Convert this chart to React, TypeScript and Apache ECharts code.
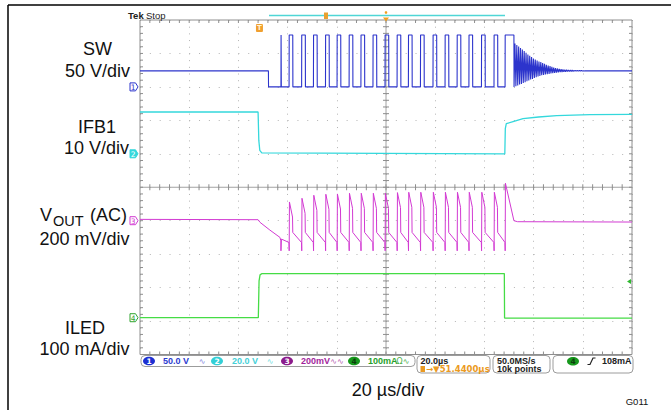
import React, { useEffect, useRef } from "react";
import * as echarts from "echarts";

// Horizontal axis: time in µs (20 µs/div, 10 divisions). Vertical axis: screen divisions (0 = bottom, 10 = top).
const timeLimitsUs = [-100, 100];
const timeTickUs = 20;
const divLimits = [0, 10];
const minorPerDiv = 5;

// Channel 1: SW (50 V/div), in screen divisions
const swIdleDiv = 8.48;
const swLowDiv = 8.0;
const swHighDiv = 9.55;
const swStopUs = -47.8;
const swSpikeUs = -42.7;
const swRiseUs = [-39.4, -34.3, -29.5, -24.6, -19.9, -15.0, -10.2, -5.3, -0.4, 4.5, 9.1, 14.0, 19.1, 24.0, 28.9, 33.7, 38.8, 43.9, 48.4];
const swFallUs = [-37.9, -32.8, -28.0, -23.1, -18.4, -13.5, -8.7, -3.8, 1.1, 6.0, 10.6, 15.5, 20.6, 25.5, 30.4, 35.2, 40.3, 45.4, 52.0];
const swRingPeriodUs = 0.75;
const swRingTopDiv = [9.3, 9.25, 9.21, 9.16, 9.12, 9.07, 9.02, 8.97, 8.93, 8.89, 8.85, 8.82, 8.79, 8.76, 8.74, 8.71, 8.69, 8.66, 8.64, 8.62, 8.6, 8.58, 8.56, 8.55, 8.54, 8.53, 8.52, 8.515, 8.51, 8.505, 8.5, 8.5, 8.495, 8.495, 8.49, 8.49, 8.49, 8.485, 8.485, 8.485, 8.48, 8.48];
const swRingBottomDiv = [8.02, 8.04, 8.07, 8.09, 8.12, 8.14, 8.17, 8.19, 8.22, 8.24, 8.27, 8.29, 8.31, 8.33, 8.35, 8.36, 8.37, 8.38, 8.39, 8.4, 8.41, 8.42, 8.43, 8.435, 8.44, 8.445, 8.45, 8.455, 8.46, 8.46, 8.465, 8.465, 8.47, 8.47, 8.47, 8.475, 8.475, 8.475, 8.48, 8.48, 8.48, 8.48];

// Channel 2: IFB1 (10 V/div)
const ifbTimesUs = [-100, -52.0, -51.7, -51.3, -50.5, 48.3, 48.5, 48.9, 52.0, 55.7, 62.0, 69.4, 82.9, 100];
const ifbDiv = [7.25, 7.25, 6.4, 6.1, 6.03, 6.0, 6.75, 6.9, 6.97, 7.05, 7.1, 7.14, 7.17, 7.18];

// Channel 3: VOUT (AC, 200 mV/div)
const voutPreTimesUs = [-100, -52.0, -51.2, -47.2, -43.1, -42.75, -42.7, -42.5, -39.45];
const voutPreDiv = [4.04, 4.03, 3.95, 3.72, 3.5, 3.4, 3.1, 3.45, 3.35];
const voutPeakDiv = [4.56, 4.67, 4.76, 4.79, 4.8, 4.82, 4.82, 4.82, 4.82, 4.84, 4.85, 4.85, 4.85, 4.85, 4.85, 4.85, 4.85, 4.85, 5.12];
const voutTroughDiv = 3.35;
const voutDipDiv = 3.1;
const voutKneeDiv = 3.65;
const voutSlopeDropDiv = 0.45;
const voutPostTimesUs = [52.0, 53.5, 100];
const voutPostDiv = [4.0, 3.97, 3.96];

// Channel 4: ILED (100 mA/div)
const iledTimesUs = [-100, -51.9, -51.6, -51.2, -50.4, 48.1, 48.2, 100];
const iledDiv = [1.1, 1.1, 2.2, 2.38, 2.42, 2.42, 1.09, 1.09];

// Ground / reference markers (screen divisions) and trigger level
const chMarkerDiv = [8.0, 6.0, 4.0, 1.1];
const triggerLevelDiv = 2.18;
const triggerTimeUs = -51.44;

const colors = {
  sw: "#2c34cc",
  ifb: "#34d8dc",
  vout: "#d23ad2",
  iled: "#45dc45",
};

function buildSw() {
  const pts: number[][] = [
    [timeLimitsUs[0], swIdleDiv],
    [swStopUs, swIdleDiv],
    [swStopUs + 0.05, swLowDiv],
    [swSpikeUs, swLowDiv],
    [swSpikeUs + 0.05, swHighDiv],
    [swSpikeUs + 0.15, swLowDiv],
  ];
  swRiseUs.forEach((r, i) => {
    pts.push([r, swLowDiv], [r + 0.05, swHighDiv], [swFallUs[i], swHighDiv], [swFallUs[i] + 0.05, swLowDiv]);
  });
  const t0 = swFallUs[swFallUs.length - 1] + 0.05;
  swRingTopDiv.forEach((top, k) => {
    pts.push([t0 + k * swRingPeriodUs + swRingPeriodUs / 2, top]);
    pts.push([t0 + (k + 1) * swRingPeriodUs, swRingBottomDiv[k]]);
  });
  pts.push([t0 + swRingTopDiv.length * swRingPeriodUs + 0.6, swIdleDiv], [timeLimitsUs[1], swIdleDiv]);
  return pts;
}

function buildVout() {
  const pts: number[][] = voutPreTimesUs.map((t, i) => [t, voutPreDiv[i]]);
  const n = swRiseUs.length;
  swRiseUs.forEach((r, i) => {
    pts.push([r, voutTroughDiv], [r + 0.05, voutDipDiv], [r + 0.15, voutPeakDiv[i]]);
    if (i < n - 1) {
      const f = swFallUs[i];
      pts.push([f - 0.1, voutPeakDiv[i] - voutSlopeDropDiv], [f, voutKneeDiv], [swRiseUs[i + 1] - 0.05, voutTroughDiv]);
    }
  });
  voutPostTimesUs.forEach((t, i) => pts.push([t, voutPostDiv[i]]));
  return pts;
}

const zip = (a: number[], b: number[]) => a.map((t, i) => [t, b[i]]);

function renderGraticule(_params: any, api: any) {
  const [x0, y0] = api.coord([timeLimitsUs[0], divLimits[0]]);
  const [x1, y1] = api.coord([timeLimitsUs[1], divLimits[1]]);
  const [cx, cy] = api.coord([0, (divLimits[0] + divLimits[1]) / 2]);
  const children: any[] = [];
  const L = (a: number, b: number, c: number, d: number, col = "#8e8e8e") =>
    children.push({ type: "line", shape: { x1: a, y1: b, x2: c, y2: d }, style: { stroke: col, lineWidth: 1 } });
  L(x0, y1, x1, y1);
  L(x0, y0, x1, y0);
  L(x0, y0, x0, y1);
  L(x1, y0, x1, y1);
  L(cx, y0, cx, y1, "#a2a2a2");
  L(x0, cy, x1, cy, "#a2a2a2");
  const nx = ((timeLimitsUs[1] - timeLimitsUs[0]) / timeTickUs) * minorPerDiv;
  const ny = (divLimits[1] - divLimits[0]) * minorPerDiv;
  for (let i = 1; i < nx; i++) {
    const x = x0 + ((x1 - x0) * i) / nx;
    L(x, cy - 3, x, cy + 3);
    L(x, y1, x, y1 + 3);
    L(x, y0 - 3, x, y0);
  }
  for (let j = 1; j < ny; j++) {
    const y = y1 + ((y0 - y1) * j) / ny;
    L(cx - 3, y, cx + 3, y);
    L(x0, y, x0 + 3, y);
    L(x1 - 3, y, x1, y);
  }
  return { type: "group", children };
}

const lineSeries = (name: string, data: number[][], color: string, width = 1.2) => ({
  name,
  type: "line",
  data,
  showSymbol: false,
  symbol: "none",
  silent: true,
  z: 5,
  lineStyle: { color, width },
});

const FONT = "Liberation Sans";

function txt(text: string, x: number, y: number, size: number, fill: string, align = "center", weight = "normal", family = FONT, z = 102) {
  return {
    type: "text",
    x,
    y,
    z,
    silent: true,
    style: { text, fill, fontSize: size, fontFamily: family, fontWeight: weight, textAlign: align, textVerticalAlign: "middle" },
  };
}

function chTag(tipX: number, y: number, label: string, color: string, filled: boolean) {
  return [
    {
      type: "polygon",
      z: 101,
      shape: { points: [[tipX - 8, y - 4], [tipX - 2.5, y - 4], [tipX, y], [tipX - 2.5, y + 4], [tipX - 8, y + 4]] },
      style: { fill: filled ? color : "#ffffff", stroke: color, lineWidth: 1 },
    },
    txt(label, tipX - 4.8, y + 0.5, 7.5, filled ? "#ffffff" : color, "center", "normal", "DejaVu Sans"),
  ];
}

function pill(cx: number, cy: number, label: string, fill: string, textFill = "#ffffff") {
  return [
    { type: "ellipse", z: 101, shape: { cx, cy, rx: 6, ry: 4.3 }, style: { fill } },
    txt(label, cx, cy + 0.5, 7.5, textFill, "center", "bold", "DejaVu Sans"),
  ];
}

function box(x: number, y: number, w: number, h: number) {
  return { type: "rect", z: 99, shape: { x, y, width: w, height: h, r: 4 }, style: { fill: "#ffffff", stroke: "#9c9c9c", lineWidth: 1 } };
}

function buildGraphics(px: (t: number, v: number) => number[]) {
  const tipX = px(timeLimitsUs[0], 0)[0] - 2;
  const rightX = px(timeLimitsUs[1], 0)[0];
  const topY = px(0, divLimits[1])[1];
  const trigX = px(triggerTimeUs, 0)[0];
  const centerX = px(0, 0)[0];
  const tl = px(0, triggerLevelDiv)[1];
  const ys = chMarkerDiv.map((d) => px(0, d)[1]);
  const els: any[] = [
    { type: "line", z: 100, shape: { x1: 8, y1: 5, x2: 671, y2: 5 }, style: { stroke: "#000", lineWidth: 1.5 } },
    { type: "line", z: 100, shape: { x1: 8, y1: 5, x2: 8, y2: 410 }, style: { stroke: "#000", lineWidth: 1.5 } },
    txt("Tek", 128, 15.5, 9.5, "#222", "left", "bold"),
    txt("Stop", 146, 15.5, 9.5, "#222", "left"),
    { type: "line", z: 100, shape: { x1: 269, y1: 15.5, x2: 505, y2: 15.5 }, style: { stroke: "#4fd6d6", lineWidth: 1.3 } },
    { type: "rect", z: 101, shape: { x: 324, y: 12.5, width: 4, height: 6.5 }, style: { fill: "#e8a030" } },
    { type: "circle", z: 101, shape: { cx: centerX, cy: 12.5, r: 1.3 }, style: { fill: "#f0a020" } },
    { type: "polygon", z: 101, shape: { points: [[centerX - 3, topY - 2.5], [centerX + 3, topY - 2.5], [centerX, topY + 1.5]] }, style: { fill: "#f0a020" } },
    { type: "rect", z: 101, shape: { x: trigX - 3.5, y: 24, width: 7, height: 8, r: 1 }, style: { fill: "#f0a030" } },
    txt("T", trigX, 28.3, 7, "#fff5d8", "center", "bold", "DejaVu Sans"),
    ...chTag(tipX, ys[0], "1", colors.sw, false),
    ...chTag(tipX, ys[1], "2", colors.ifb, true),
    ...chTag(tipX, ys[2], "3", colors.vout, false),
    ...chTag(tipX, ys[3], "4", "#2fa42f", false),
    { type: "polygon", z: 101, shape: { points: [[rightX - 5, tl], [rightX - 1, tl - 2.5], [rightX - 1, tl + 2.5]] }, style: { fill: "#2fb82f" } },
    // channel labels
    txt("SW", 97.5, 49, 18, "#111"),
    txt("50 V/div", 97.5, 70.5, 18, "#111"),
    txt("IFB1", 97, 127, 18, "#111"),
    txt("10 V/div", 96.5, 147.5, 18, "#111"),
    txt("V", 40, 215, 18, "#111", "left"),
    txt("OUT", 53, 221, 14.5, "#111", "left"),
    txt("(AC)", 90, 215, 18, "#111", "left"),
    txt("200 mV/div", 84.5, 239, 18, "#111"),
    txt("ILED", 85, 328, 18, "#111"),
    txt("100 mA/div", 84.5, 349, 18, "#111"),
    txt("20 µs/div", 388, 389.5, 18, "#111"),
    txt("G011", 637, 401.5, 9.5, "#111"),
    // status bar
    box(141, 355.5, 274, 11),
    ...pill(149, 361, "1", "#1c2fd2"),
    txt("50.0 V", 163, 361.3, 9, "#2b3bd0", "left", "bold"),
    txt("∿", 202, 361, 8, "#7f86e0", "center", "normal", "DejaVu Sans"),
    ...pill(217, 361, "2", "#33cfd6"),
    txt("20.0 V", 232, 361.3, 9, "#45d0d8", "left", "bold"),
    txt("∿", 270, 361, 8, "#6fdde0", "center", "normal", "DejaVu Sans"),
    ...pill(287, 361, "3", "#8b1a8b"),
    txt("200mV", 301, 361.3, 9, "#a21f9c", "left", "bold"),
    txt("∿∿", 337, 361, 8, "#b45ab0", "center", "normal", "DejaVu Sans"),
    ...pill(354, 361, "4", "#17991d", "#0d3d0d"),
    txt("100mA", 368, 361.3, 9, "#27a02b", "left", "bold"),
    txt("Ω∿", 403, 361, 8, "#4aaf4a", "center", "normal", "DejaVu Sans"),
    box(417, 355.5, 73, 17.5),
    txt("20.0µs", 420.5, 360.8, 9, "#222", "left", "bold"),
    { type: "rect", z: 101, shape: { x: 420.5, y: 366, width: 4.5, height: 6 }, style: { fill: "#eb9a22" } },
    txt("→▼51.4400µs", 426, 369.3, 8.5, "#eb9a22", "left", "bold", "DejaVu Sans"),
    box(493, 355.5, 57, 17.5),
    txt("50.0MS/s", 497, 360.8, 9, "#222", "left", "bold"),
    txt("10k points", 497, 369.3, 9, "#222", "left", "bold"),
    box(553, 355.5, 80, 17.5),
    ...pill(573, 361.3, "4", "#17991d", "#0d3d0d"),
    { type: "polyline", z: 101, shape: { points: [[587.5, 364.5], [590, 364.5], [593, 358], [595.5, 358]] }, style: { stroke: "#222", lineWidth: 1.2, fill: "none" } },
    txt("108mA", 602, 361.3, 9, "#222", "left", "bold"),
  ];
  return els;
}

export default function App() {
  const ref = useRef<HTMLDivElement>(null);
  useEffect(() => {
    const chart = echarts.init(ref.current!, null, { renderer: "svg" });
    chart.setOption({
      animation: false,
      backgroundColor: "#ffffff",
      grid: { left: 140, top: 20, width: 492, height: 334.5, show: false },
      xAxis: {
        type: "value",
        min: timeLimitsUs[0],
        max: timeLimitsUs[1],
        interval: timeTickUs,
        axisLine: { show: false },
        axisTick: { show: false },
        axisLabel: { show: false },
        splitLine: { show: true, lineStyle: { color: "#b4b4b4", width: 1, type: [1, 5.69] } },
      },
      yAxis: {
        type: "value",
        min: divLimits[0],
        max: divLimits[1],
        interval: 1,
        axisLine: { show: false },
        axisTick: { show: false },
        axisLabel: { show: false },
        splitLine: { show: true, lineStyle: { color: "#b4b4b4", width: 1, type: [1, 8.84] } },
      },
      series: [
        { type: "custom", renderItem: renderGraticule, data: [[0, 0]], silent: true, z: 1 },
        lineSeries("ILED", zip(iledTimesUs, iledDiv), colors.iled, 1.3),
        lineSeries("IFB1", zip(ifbTimesUs, ifbDiv), colors.ifb, 1.3),
        lineSeries("VOUT", buildVout(), colors.vout, 1.0),
        lineSeries("SW", buildSw(), colors.sw, 1.1),
      ],
    });
    const px = (t: number, v: number) => chart.convertToPixel({ gridIndex: 0 }, [t, v]) as number[];
    chart.setOption({ graphic: { elements: buildGraphics(px) } });
    return () => chart.dispose();
  }, []);
  return <div ref={ref} style={{ position: "fixed", left: 0, top: 0, width: 671, height: 410, background: "#fff" }} />;
}
